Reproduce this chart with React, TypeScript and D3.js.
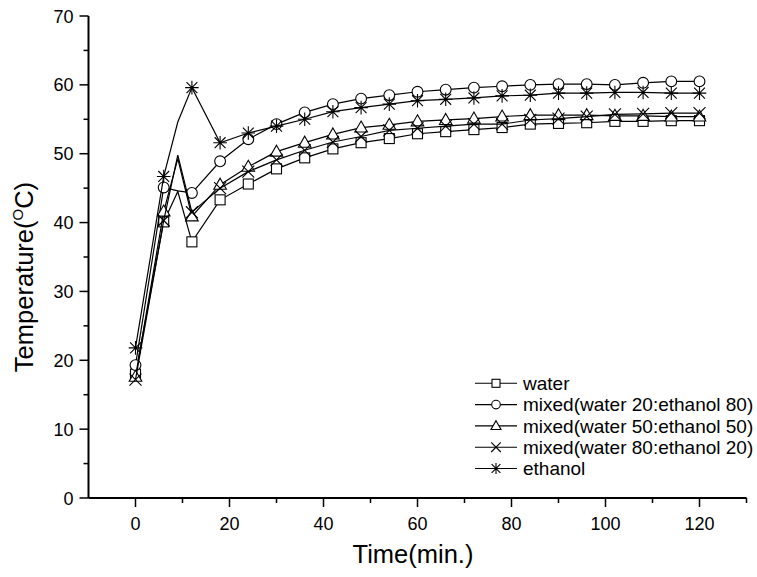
import React from "react";
import * as d3 from "d3";

const times = [0, 6, 9, 12, 18, 24, 30, 36, 42, 48, 54, 60, 66, 72, 78, 84, 90, 96, 102, 108, 114, 120];
const unmarkedTimes = [9];

const waterValues = [18.0, 40.1, 44.5, 37.2, 43.3, 45.6, 47.8, 49.4, 50.7, 51.6, 52.2, 52.9, 53.2, 53.5, 53.8, 54.3, 54.4, 54.5, 54.7, 54.7, 54.8, 54.8];
const mix2080Values = [19.3, 45.1, 44.6, 44.3, 48.9, 52.1, 54.3, 56.0, 57.2, 58.0, 58.5, 59.0, 59.3, 59.6, 59.8, 60.0, 60.1, 60.1, 60.0, 60.3, 60.5, 60.5];
const mix5050Values = [17.6, 41.6, 49.3, 40.9, 45.5, 48.1, 50.3, 51.6, 52.8, 53.8, 54.2, 54.7, 54.9, 55.1, 55.4, 55.6, 55.6, 55.6, 55.5, 55.5, 55.4, 55.4];
const mix8020Values = [17.2, 40.3, 49.8, 41.5, 45.0, 47.4, 49.1, 50.5, 51.7, 52.5, 53.4, 53.7, 54.0, 54.3, 54.3, 54.9, 55.1, 55.4, 55.7, 55.8, 55.9, 55.9];
const ethanolValues = [21.8, 46.7, 54.6, 59.6, 51.6, 53.0, 54.0, 55.0, 56.1, 56.7, 57.2, 57.7, 57.9, 58.1, 58.4, 58.5, 58.8, 58.8, 58.9, 58.9, 58.8, 58.8];

const seriesNames = [
  "water",
  "mixed(water 20:ethanol 80)",
  "mixed(water 50:ethanol 50)",
  "mixed(water 80:ethanol 20)",
  "ethanol",
];
const seriesSymbols = ["square", "circle", "triangle", "cross", "star"];
const seriesValues = [waterValues, mix2080Values, mix5050Values, mix8020Values, ethanolValues];

const xMajorTicks = [0, 20, 40, 60, 80, 100, 120];
const xMinorTicks = [10, 30, 50, 70, 90, 110, 130];
const yMajorTicks = [0, 10, 20, 30, 40, 50, 60, 70];
const yMinorTicks = [5, 15, 25, 35, 45, 55, 65];

const xTitle = "Time(min.)";
const yTitle = "Temperature(";

const W = 757;
const H = 577;
const FONT = "'Liberation Sans', Arial, Helvetica, sans-serif";

function Symbol({ kind, x, y, k = 1 }: { kind: string; x: number; y: number; k?: number }) {
  const s = "#000";
  const sw = 1.1;
  if (kind === "square") {
    const h = 5 * k;
    return <rect x={x - h} y={y - h} width={2 * h} height={2 * h} fill="#fff" stroke={s} strokeWidth={sw} />;
  }
  if (kind === "circle") {
    return <circle cx={x} cy={y} r={5.4 * k} fill="#fff" stroke={s} strokeWidth={sw} />;
  }
  if (kind === "triangle") {
    return (
      <path
        d={`M${x},${y - 6.5 * k} L${x + 6.3 * k},${y + 4.5 * k} L${x - 6.3 * k},${y + 4.5 * k} Z`}
        fill="#fff"
        stroke={s}
        strokeWidth={sw}
      />
    );
  }
  if (kind === "cross") {
    const r = 6 * k;
    return (
      <path
        d={`M${x - r},${y - r} L${x + r},${y + r} M${x - r},${y + r} L${x + r},${y - r}`}
        stroke={s}
        strokeWidth={sw}
        fill="none"
      />
    );
  }
  const r = 6.8 * k;
  const d = r * 0.8;
  return (
    <path
      d={`M${x},${y - r} L${x},${y + r} M${x - d},${y - d} L${x + d},${y + d} M${x - d},${y + d} L${x + d},${y - d} M${x - r},${y} L${x + r},${y}`}
      stroke={s}
      strokeWidth={sw}
      fill="none"
    />
  );
}

export default function App() {
  const x = d3.scaleLinear().domain([-10, 130]).range([88.5, 746.5]);
  const y = d3.scaleLinear().domain([0, 70]).range([498, 16]);

  const line = d3
    .line<[number, number]>()
    .x((d) => x(d[0]))
    .y((d) => y(d[1]))
    .curve(d3.curveLinear);

  const x0 = x(-10);
  const y0 = y(0);

  const legendX = 475;
  const legendY0 = 383.3;
  const legendDy = 21.3;

  return (
    <svg
      width={W}
      height={H}
      viewBox={`0 0 ${W} ${H}`}
      style={{ position: "absolute", left: 0, top: 0, background: "#fff" }}
      fontFamily={FONT}
    >
      <rect x={0} y={0} width={W} height={H} fill="#fff" />

      {seriesValues.map((vals, i) => {
        const pts: [number, number][] = times.map((t, j) => [t, vals[j]]);
        return (
          <g key={"s" + i}>
            <path d={line(pts) || ""} fill="none" stroke="#000" strokeWidth={1.2} />
            {pts
              .filter((p) => !unmarkedTimes.includes(p[0]))
              .map((p, j) => (
                <Symbol key={j} kind={seriesSymbols[i]} x={x(p[0])} y={y(p[1])} />
              ))}
          </g>
        );
      })}

      <line x1={x0} y1={y(70)} x2={x0} y2={y0} stroke="#000" strokeWidth={2} />
      <line x1={x0} y1={y0} x2={x(130)} y2={y0} stroke="#000" strokeWidth={2} />

      {yMajorTicks.map((t) => (
        <g key={"ym" + t}>
          <line x1={x0 - 9} x2={x0} y1={y(t)} y2={y(t)} stroke="#000" strokeWidth={1.5} />
          <text x={73.5} y={y(t) + 6.5} fontSize={18} textAnchor="end" fill="#000">
            {t}
          </text>
        </g>
      ))}
      {yMinorTicks.map((t) => (
        <line key={"yn" + t} x1={x0 - 5} x2={x0} y1={y(t)} y2={y(t)} stroke="#000" strokeWidth={1.5} />
      ))}

      {xMajorTicks.map((t) => (
        <g key={"xm" + t}>
          <line x1={x(t)} x2={x(t)} y1={y0} y2={y0 + 9} stroke="#000" strokeWidth={1.5} />
          <text x={x(t)} y={529.5} fontSize={18} textAnchor="middle" fill="#000">
            {t}
          </text>
        </g>
      ))}
      {xMinorTicks.map((t) => (
        <line key={"xn" + t} x1={x(t)} x2={x(t)} y1={y0} y2={y0 + 5} stroke="#000" strokeWidth={1.5} />
      ))}

      <text x={413} y={563} fontSize={25.5} textAnchor="middle" fill="#000">
        {xTitle}
      </text>
      <text
        transform={`translate(33,277) rotate(-90)`}
        fontSize={25.5}
        textAnchor="middle"
        fill="#000"
      >
        {yTitle}
        <tspan fontSize={15} dy={-10}>O</tspan>
        <tspan dy={10}>C)</tspan>
      </text>

      {seriesNames.map((name, i) => {
        const ly = legendY0 + i * legendDy;
        return (
          <g key={"lg" + i}>
            <line x1={legendX} x2={legendX + 42} y1={ly} y2={ly} stroke="#000" strokeWidth={1.1} />
            <Symbol kind={seriesSymbols[i]} x={legendX + 21} y={ly} k={0.8} />
            <text x={523} y={ly + 6.7} fontSize={19} fill="#000">
              {name}
            </text>
          </g>
        );
      })}
    </svg>
  );
}
